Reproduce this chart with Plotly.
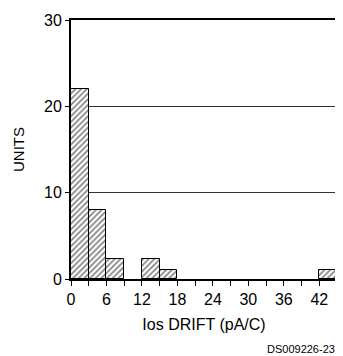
import plotly.graph_objects as go

bin_starts = [0, 3, 6, 9, 12, 15, 18, 21, 24, 27, 30, 33, 36, 39, 42]
counts = [22, 8, 2.3, 0, 2.3, 1, 0, 0, 0, 0, 0, 0, 0, 0, 1]
bin_width = 3
x_tick_vals = list(range(0, 46, 3))
x_tick_text = [str(v) if v % 6 == 0 and v <= 42 else "" for v in x_tick_vals]
y_tick_vals = [0, 10, 20, 30]

xs = [b + bin_width / 2 for b, c in zip(bin_starts, counts) if c > 0]
ys = [c for c in counts if c > 0]

fig = go.Figure()
fig.add_trace(go.Bar(
    x=xs, y=ys, width=bin_width,
    marker=dict(color="white", line=dict(color="black", width=1),
                pattern=dict(shape="/", fgcolor="black", bgcolor="white", size=4, solidity=0.4)),
))

font = "Liberation Sans, Arial, sans-serif"
fig.update_layout(
    width=335, height=348,
    margin=dict(l=63, r=4, t=5, b=77),
    plot_bgcolor="white", paper_bgcolor="white",
    showlegend=False,
    bargap=0,
    font=dict(family=font, color="black"),
    xaxis=dict(range=[0, 45], tickvals=x_tick_vals, ticktext=x_tick_text,
               ticks="outside", ticklen=5, tickwidth=1, tickcolor="black",
               showline=True, linecolor="black", linewidth=2, mirror=True,
               showgrid=False, zeroline=False, ticklabeloverflow="allow",
               tickfont=dict(size=16, family=font),
               title=dict(text="Ios DRIFT (pA/C)", font=dict(size=16, family=font), standoff=12)),
    yaxis=dict(range=[0, 30], tickvals=y_tick_vals,
               ticks="outside", ticklen=4, tickwidth=1, tickcolor="black",
               showline=True, linecolor="black", linewidth=2, mirror=True,
               showgrid=True, gridcolor="#333", gridwidth=1, zeroline=False,
               ticklabeloverflow="allow",
               tickfont=dict(size=16, family=font),
               title=dict(text="UNITS", font=dict(size=15, family=font), standoff=16)),
)
fig.add_annotation(text="DS009226-23", xref="paper", yref="paper", x=1.0, y=0, yshift=-62,
                   xanchor="right", yanchor="top", showarrow=False,
                   font=dict(size=11, family=font, color="black"))

fig.write_html("out.html")
